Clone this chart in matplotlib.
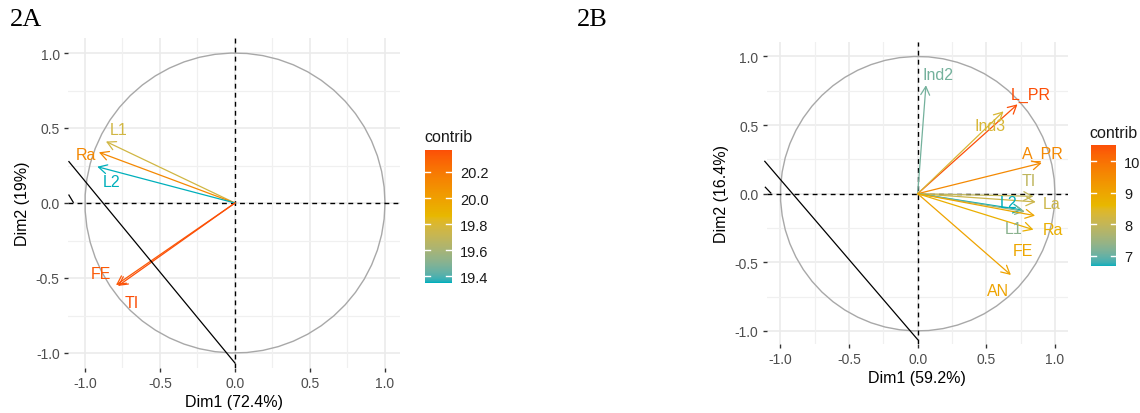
import matplotlib.pyplot as plt
import numpy as np
from matplotlib.colors import ListedColormap, Normalize, to_rgb
from matplotlib.colorbar import ColorbarBase
from matplotlib.patches import FancyArrowPatch

plt.rcParams['font.family'] = ['Liberation Sans', 'DejaVu Sans']

# variable correlation circle, first set (2A)
vars_a = ['L1', 'Ra', 'L2', 'FE', 'TI']
dim1_a = [-0.86, -0.907, -0.918, -0.793, -0.78]
dim2_a = [0.41, 0.338, 0.242, -0.547, -0.553]
contrib_a = [19.76, 20.12, 19.35, 20.33, 20.37]
cbar_ticks_a = [19.4, 19.6, 19.8, 20.0, 20.2]

# second set (2B)
vars_b = ['Ind2', 'L_PR', 'Ind3', 'A_PR', 'TI', 'La', 'L2', 'L1', 'FE', 'Ra', 'AN']
dim1_b = [0.06, 0.727, 0.625, 0.904, 0.843, 0.86, 0.765, 0.78, 0.855, 0.843, 0.679]
dim2_b = [0.79, 0.651, 0.60, 0.224, -0.019, -0.06, -0.119, -0.13, -0.16, -0.262, -0.592]
contrib_b = [7.10, 10.52, 8.33, 9.56, 7.94, 8.13, 6.67, 7.30, 8.98, 8.79, 9.06]
cbar_ticks_b = [7, 8, 9, 10]

# repelled label positions
lab_a = {'L1': (-0.773, 0.487), 'Ra': (-0.993, 0.322), 'L2': (-0.82, 0.14),
         'FE': (-0.895, -0.467), 'TI': (-0.689, -0.662)}
lab_b = {'Ind2': (0.15, 0.865), 'L_PR': (0.82, 0.726), 'Ind3': (0.528, 0.495),
         'A_PR': (0.912, 0.296), 'TI': (0.806, 0.095), 'La': (0.977, -0.07),
         'L2': (0.66, -0.063), 'L1': (0.697, -0.255), 'Ra': (0.984, -0.262),
         'FE': (0.77, -0.415), 'AN': (0.588, -0.706)}

grad_cols = ['#00AFBB', '#E7B800', '#FC4E07']

# gradient interpolated in CIELAB, like ggplot's gradientn
_wp = np.array([0.95047, 1.0, 1.08883])
_m = np.array([[0.4124, 0.3576, 0.1805],
               [0.2126, 0.7152, 0.0722],
               [0.0193, 0.1192, 0.9505]])


def to_lab(c):
    rgb = np.array(to_rgb(c))
    lin = np.where(rgb <= 0.04045, rgb / 12.92, ((rgb + 0.055) / 1.055) ** 2.4)
    xyz = _m @ lin / _wp
    f = np.where(xyz > 0.008856, np.cbrt(xyz), 7.787 * xyz + 16 / 116)
    return np.array([116 * f[1] - 16, 500 * (f[0] - f[1]), 200 * (f[1] - f[2])])


def from_lab(lab):
    fy = (lab[0] + 16) / 116
    f = np.array([fy + lab[1] / 500, fy, fy - lab[2] / 200])
    xyz = np.where(f ** 3 > 0.008856, f ** 3, (f - 16 / 116) / 7.787) * _wp
    lin = np.linalg.solve(_m, xyz)
    lin = np.clip(lin, 0, 1)
    rgb = np.where(lin <= 0.0031308, 12.92 * lin, 1.055 * lin ** (1 / 2.4) - 0.055)
    return np.clip(rgb, 0, 1)


labs = [to_lab(c) for c in grad_cols]
stops = np.linspace(0, 1, len(labs))
ramp = []
for t in np.linspace(0, 1, 256):
    i = min(np.searchsorted(stops, t, side='right') - 1, len(labs) - 2)
    u = (t - stops[i]) / (stops[i + 1] - stops[i])
    ramp.append(from_lab(labs[i] * (1 - u) + labs[i + 1] * u))
cmap = ListedColormap(ramp)

W, H = 1140, 414
fig = plt.figure(figsize=(W / 100, H / 100), dpi=100)


def frac(left, top, right, bottom):
    return [left / W, 1 - bottom / H, (right - left) / W, (bottom - top) / H]


def corr_circle(ax, names, d1, d2, contrib, labels, xlim, ylim, xlabel, ylabel):
    norm = Normalize(min(contrib), max(contrib))
    ax.set_xlim(*xlim)
    ax.set_ylim(*ylim)
    for s in ax.spines.values():
        s.set_visible(False)
    ticks = [-1.0, -0.5, 0.0, 0.5, 1.0]
    minor = [-0.75, -0.25, 0.25, 0.75]
    for t in ticks:
        ax.axvline(t, color='#EBEBEB', lw=1.2, zorder=0)
        ax.axhline(t, color='#EBEBEB', lw=1.2, zorder=0)
    for t in minor:
        ax.axvline(t, color='#F0F0F0', lw=0.9, zorder=0)
        ax.axhline(t, color='#F0F0F0', lw=0.9, zorder=0)
    ax.set_xticks(ticks)
    ax.set_yticks(ticks)
    ax.set_xticklabels(['-1.0', '-0.5', '0.0', '0.5', '1.0'])
    ax.set_yticklabels(['-1.0', '-0.5', '0.0', '0.5', '1.0'])
    ax.tick_params(length=3, width=1, color='#333333', labelcolor='#4D4D4D',
                   labelsize=10, pad=3)

    th = np.linspace(0, 2 * np.pi, 60)
    ax.plot(np.cos(th), np.sin(th), color='#A8A8A8', lw=1.0, zorder=1)
    ax.axhline(0, color='black', lw=1.0, ls=(0, (3.5, 3)), zorder=2)
    ax.axvline(0, color='black', lw=1.0, ls=(0, (3.5, 3)), zorder=2)

    for n, x, y, c in zip(names, d1, d2, contrib):
        col = cmap(norm(c))
        ax.add_patch(FancyArrowPatch((0, 0), (x, y), arrowstyle='->,head_length=0.6,head_width=0.32',
                                     mutation_scale=10, lw=0.9, color=col,
                                     shrinkA=0, shrinkB=0, zorder=3))
        lx, ly = labels[n]
        ax.text(lx, ly, n, color=col, fontsize=11.5, ha='center', va='center', zorder=4)

    ax.set_xlabel(xlabel, fontsize=11.5, labelpad=3)
    ax.set_ylabel(ylabel, fontsize=11.5, labelpad=4)
    return norm


def contrib_bar(rect, norm, ticks, title_xy):
    cax = fig.add_axes(rect)
    cb = ColorbarBase(cax, cmap=cmap, norm=norm)
    cb.outline.set_visible(False)
    cb.set_ticks(ticks)
    cax.tick_params(length=0, labelsize=10.5, pad=6, labelcolor='#1A1A1A')
    for t in ticks:
        cax.axhline(t, xmin=0, xmax=0.2, color='white', lw=1)
        cax.axhline(t, xmin=0.8, xmax=1, color='white', lw=1)
    fig.text(title_xy[0] / W, 1 - title_xy[1] / H, 'contrib', fontsize=11.5,
             ha='left', va='center', color='#1A1A1A')


ax_a = fig.add_axes(frac(68, 39, 400, 369))
norm_a = corr_circle(ax_a, vars_a, dim1_a, dim2_a, contrib_a, lab_a,
                     (-1.113, 1.1), (-1.1, 1.1), 'Dim1 (72.4%)', 'Dim2 (19%)')
ax_a.plot([-1.107, 0.0], [0.276, -1.067], color='black', lw=0.9, clip_on=False, zorder=3)
ax_a.plot([-1.107, -1.078], [0.053, 0.005], color='black', lw=0.9, clip_on=False, zorder=3)
contrib_bar(frac(425, 150.7, 451.7, 284), norm_a, cbar_ticks_a, (424, 137))

ax_b = fig.add_axes(frac(766.7, 43.3, 1068, 345))
norm_b = corr_circle(ax_b, vars_b, dim1_b, dim2_b, contrib_b, lab_b,
                     (-1.1, 1.095), (-1.095, 1.103), 'Dim1 (59.2%)', 'Dim2 (16.4%)')
ax_b.plot([-1.114, 0.0], [0.236, -1.063], color='black', lw=0.9, clip_on=False, zorder=3)
ax_b.plot([-1.11, -1.07], [0.047, 0.005], color='black', lw=0.9, clip_on=False, zorder=3)
contrib_bar(frac(1091, 146, 1116, 267.3), norm_b, cbar_ticks_b, (1089, 133))

fig.text(10 / W, 1 - 20 / H, '2A', fontsize=19, family='Liberation Serif', ha='left', va='center')
fig.text(577 / W, 1 - 20 / H, '2B', fontsize=19, family='Liberation Serif', ha='left', va='center')

fig.savefig('out.png', dpi=100)
